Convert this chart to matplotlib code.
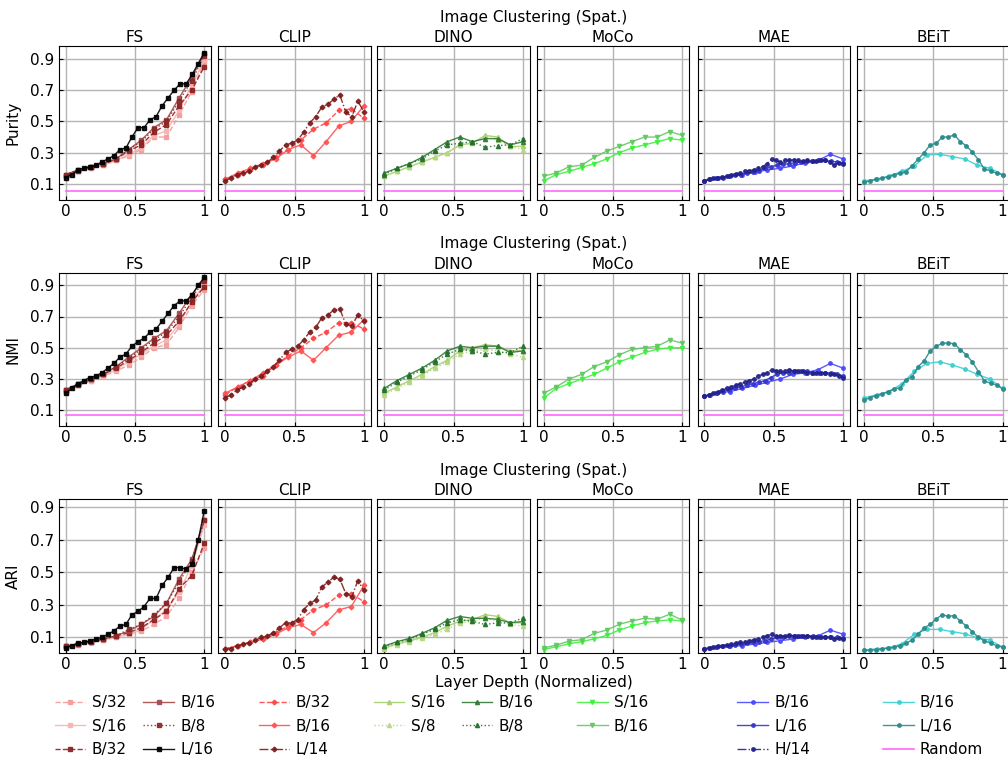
import numpy as np
import matplotlib
matplotlib.use('Agg')
import matplotlib.pyplot as plt

# ---- data: each model -> [Purity, NMI, ARI] per layer (x = normalized depth) ----
metrics = ['Purity', 'NMI', 'ARI']
families = ['FS', 'CLIP', 'DINO', 'MoCo', 'MAE', 'BEiT']
random_level = [0.056, 0.072, 0.0]

fs_s32 = [[0.15, 0.18, 0.20, 0.22, 0.25, 0.28, 0.32, 0.40, 0.40, 0.54, 0.69, 0.88],
          [0.22, 0.26, 0.29, 0.32, 0.35, 0.39, 0.44, 0.50, 0.52, 0.63, 0.77, 0.87],
          [0.04, 0.055, 0.07, 0.085, 0.10, 0.12, 0.14, 0.18, 0.23, 0.34, 0.50, 0.65]]
fs_s16 = [[0.15, 0.18, 0.20, 0.22, 0.25, 0.29, 0.33, 0.41, 0.44, 0.57, 0.73, 0.89],
          [0.22, 0.26, 0.29, 0.32, 0.36, 0.41, 0.46, 0.51, 0.55, 0.65, 0.80, 0.90],
          [0.04, 0.055, 0.07, 0.085, 0.10, 0.12, 0.15, 0.21, 0.27, 0.38, 0.54, 0.79]]
fs_b32 = [[0.15, 0.18, 0.21, 0.23, 0.26, 0.31, 0.35, 0.43, 0.48, 0.60, 0.70, 0.85],
          [0.23, 0.26, 0.30, 0.33, 0.37, 0.42, 0.47, 0.53, 0.58, 0.67, 0.79, 0.89],
          [0.045, 0.06, 0.075, 0.09, 0.11, 0.13, 0.16, 0.21, 0.26, 0.40, 0.48, 0.68]]
fs_b16 = [[0.16, 0.19, 0.21, 0.23, 0.26, 0.32, 0.38, 0.46, 0.51, 0.65, 0.78, 0.93],
          [0.23, 0.27, 0.30, 0.33, 0.38, 0.44, 0.50, 0.56, 0.61, 0.72, 0.84, 0.94],
          [0.045, 0.06, 0.075, 0.09, 0.11, 0.14, 0.18, 0.23, 0.31, 0.46, 0.58, 0.82]]
fs_b8 = [[0.16, 0.19, 0.21, 0.23, 0.26, 0.32, 0.37, 0.45, 0.50, 0.63, 0.76, 0.92],
         [0.23, 0.27, 0.30, 0.33, 0.38, 0.43, 0.49, 0.55, 0.60, 0.70, 0.82, 0.93],
         [0.045, 0.06, 0.075, 0.09, 0.11, 0.15, 0.18, 0.24, 0.31, 0.44, 0.57, 0.82]]
fs_l16 = [[0.14, 0.16, 0.19, 0.20, 0.21, 0.22, 0.24, 0.26, 0.28, 0.32, 0.33, 0.40,
           0.46, 0.46, 0.51, 0.53, 0.60, 0.65, 0.70, 0.74, 0.74, 0.80, 0.87, 0.94],
          [0.21, 0.24, 0.27, 0.29, 0.31, 0.32, 0.34, 0.37, 0.40, 0.44, 0.46, 0.51,
           0.54, 0.56, 0.60, 0.62, 0.67, 0.72, 0.77, 0.80, 0.80, 0.84, 0.90, 0.95],
          [0.035, 0.05, 0.065, 0.07, 0.08, 0.09, 0.10, 0.12, 0.14, 0.17, 0.18, 0.24,
           0.26, 0.29, 0.34, 0.34, 0.42, 0.47, 0.53, 0.53, 0.52, 0.55, 0.70, 0.88]]

clip_b32 = [[0.13, 0.16, 0.19, 0.22, 0.27, 0.32, 0.38, 0.45, 0.49, 0.57, 0.58, 0.52],
            [0.20, 0.25, 0.29, 0.32, 0.39, 0.45, 0.50, 0.56, 0.60, 0.66, 0.66, 0.62],
            [0.03, 0.05, 0.07, 0.09, 0.13, 0.17, 0.21, 0.27, 0.30, 0.36, 0.37, 0.32]]
clip_b16 = [[0.13, 0.17, 0.20, 0.23, 0.26, 0.32, 0.35, 0.28, 0.37, 0.47, 0.50, 0.60],
            [0.21, 0.25, 0.29, 0.34, 0.39, 0.44, 0.48, 0.42, 0.50, 0.58, 0.60, 0.68],
            [0.03, 0.05, 0.07, 0.09, 0.12, 0.16, 0.18, 0.13, 0.19, 0.27, 0.29, 0.42]]
clip_l14 = [[0.12, 0.14, 0.16, 0.17, 0.18, 0.21, 0.22, 0.24, 0.27, 0.31, 0.35, 0.36,
             0.38, 0.43, 0.49, 0.53, 0.59, 0.61, 0.64, 0.67, 0.56, 0.53, 0.63, 0.56],
            [0.18, 0.20, 0.23, 0.25, 0.27, 0.30, 0.32, 0.35, 0.38, 0.42, 0.47, 0.49,
             0.51, 0.55, 0.60, 0.63, 0.69, 0.71, 0.74, 0.75, 0.65, 0.64, 0.71, 0.67],
            [0.028, 0.032, 0.048, 0.059, 0.069, 0.083, 0.10, 0.11, 0.13, 0.16, 0.19, 0.19,
             0.21, 0.27, 0.31, 0.33, 0.41, 0.44, 0.47, 0.46, 0.37, 0.35, 0.45, 0.39]]

dino_s16 = [[0.15, 0.18, 0.21, 0.24, 0.27, 0.30, 0.35, 0.36, 0.41, 0.40, 0.34, 0.34],
            [0.21, 0.25, 0.29, 0.33, 0.38, 0.42, 0.48, 0.50, 0.52, 0.51, 0.48, 0.48],
            [0.035, 0.06, 0.08, 0.10, 0.13, 0.17, 0.20, 0.21, 0.24, 0.23, 0.19, 0.19]]
dino_s8 = [[0.15, 0.18, 0.21, 0.24, 0.27, 0.30, 0.35, 0.37, 0.40, 0.38, 0.34, 0.32],
           [0.20, 0.24, 0.28, 0.32, 0.37, 0.41, 0.46, 0.48, 0.49, 0.48, 0.46, 0.44],
           [0.03, 0.055, 0.075, 0.095, 0.12, 0.15, 0.19, 0.20, 0.22, 0.20, 0.18, 0.17]]
dino_b16 = [[0.17, 0.20, 0.23, 0.27, 0.32, 0.37, 0.40, 0.37, 0.39, 0.39, 0.35, 0.37],
            [0.24, 0.29, 0.33, 0.37, 0.42, 0.48, 0.51, 0.50, 0.51, 0.51, 0.47, 0.48],
            [0.047, 0.074, 0.094, 0.125, 0.16, 0.206, 0.229, 0.218, 0.218, 0.212, 0.191, 0.198]]
dino_b8 = [[0.16, 0.20, 0.23, 0.26, 0.31, 0.35, 0.36, 0.37, 0.335, 0.345, 0.35, 0.39],
           [0.23, 0.28, 0.32, 0.36, 0.41, 0.46, 0.49, 0.48, 0.46, 0.47, 0.47, 0.51],
           [0.045, 0.07, 0.09, 0.12, 0.15, 0.19, 0.21, 0.20, 0.18, 0.19, 0.19, 0.22]]

moco_s16 = [[0.12, 0.16, 0.18, 0.205, 0.23, 0.26, 0.30, 0.33, 0.35, 0.37, 0.39, 0.38],
            [0.18, 0.24, 0.27, 0.30, 0.33, 0.37, 0.41, 0.44, 0.47, 0.49, 0.50, 0.50],
            [0.026, 0.043, 0.061, 0.074, 0.092, 0.113, 0.146, 0.171, 0.191, 0.202, 0.208, 0.202]]
moco_b16 = [[0.15, 0.17, 0.21, 0.22, 0.27, 0.31, 0.34, 0.37, 0.40, 0.40, 0.435, 0.41],
            [0.21, 0.25, 0.30, 0.33, 0.38, 0.41, 0.455, 0.49, 0.50, 0.51, 0.55, 0.53],
            [0.036, 0.053, 0.078, 0.086, 0.125, 0.146, 0.181, 0.202, 0.218, 0.212, 0.243, 0.206]]

mae_b16 = [[0.12, 0.135, 0.15, 0.16, 0.175, 0.19, 0.20, 0.215, 0.235, 0.25, 0.29, 0.26],
           [0.19, 0.21, 0.22, 0.24, 0.26, 0.28, 0.30, 0.33, 0.34, 0.36, 0.40, 0.37],
           [0.03, 0.04, 0.045, 0.05, 0.06, 0.07, 0.08, 0.09, 0.10, 0.11, 0.145, 0.12]]
mae_l16 = [[0.12, 0.13, 0.135, 0.14, 0.15, 0.155, 0.16, 0.17, 0.175, 0.185, 0.20, 0.21,
            0.22, 0.225, 0.23, 0.235, 0.24, 0.245, 0.245, 0.25, 0.25, 0.245, 0.24, 0.235],
           [0.19, 0.20, 0.21, 0.22, 0.23, 0.24, 0.25, 0.26, 0.27, 0.28, 0.29, 0.31,
            0.33, 0.34, 0.34, 0.35, 0.35, 0.35, 0.34, 0.34, 0.34, 0.34, 0.33, 0.32],
           [0.03, 0.035, 0.04, 0.045, 0.05, 0.055, 0.06, 0.065, 0.07, 0.075, 0.08, 0.09,
            0.10, 0.105, 0.11, 0.11, 0.11, 0.11, 0.11, 0.105, 0.105, 0.10, 0.10, 0.095]]
mae_h14 = [[0.12, 0.13, 0.135, 0.14, 0.145, 0.15, 0.16, 0.165, 0.17, 0.18, 0.185, 0.19,
            0.20, 0.21, 0.23, 0.26, 0.25, 0.24, 0.25, 0.25, 0.255, 0.25, 0.245, 0.25,
            0.245, 0.245, 0.25, 0.25, 0.24, 0.22, 0.235, 0.23],
           [0.19, 0.20, 0.21, 0.22, 0.23, 0.24, 0.25, 0.26, 0.27, 0.28, 0.29, 0.30,
            0.32, 0.33, 0.34, 0.36, 0.35, 0.35, 0.35, 0.36, 0.35, 0.35, 0.35, 0.34,
            0.34, 0.34, 0.34, 0.34, 0.33, 0.33, 0.32, 0.31],
           [0.03, 0.035, 0.04, 0.045, 0.05, 0.055, 0.06, 0.065, 0.07, 0.075, 0.08, 0.085,
            0.09, 0.10, 0.11, 0.12, 0.11, 0.11, 0.11, 0.115, 0.11, 0.11, 0.11, 0.11,
            0.105, 0.105, 0.105, 0.10, 0.10, 0.09, 0.095, 0.09]]

beit_b16 = [[0.12, 0.13, 0.15, 0.18, 0.215, 0.285, 0.29, 0.275, 0.26, 0.22, 0.20, 0.16],
            [0.18, 0.20, 0.22, 0.27, 0.35, 0.40, 0.41, 0.39, 0.365, 0.33, 0.30, 0.24],
            [0.022, 0.03, 0.036, 0.061, 0.119, 0.15, 0.15, 0.136, 0.123, 0.098, 0.084, 0.041]]
beit_l16 = [[0.11, 0.12, 0.13, 0.136, 0.147, 0.158, 0.168, 0.179, 0.217, 0.258, 0.30, 0.35,
             0.36, 0.40, 0.40, 0.414, 0.37, 0.343, 0.303, 0.254, 0.194, 0.185, 0.168, 0.16],
            [0.166, 0.181, 0.194, 0.203, 0.22, 0.237, 0.245, 0.295, 0.316, 0.38, 0.417, 0.481,
             0.509, 0.53, 0.53, 0.526, 0.487, 0.455, 0.408, 0.348, 0.288, 0.273, 0.263, 0.237],
            [0.02, 0.022, 0.025, 0.03, 0.035, 0.04, 0.05, 0.065, 0.085, 0.12, 0.16, 0.18,
             0.215, 0.24, 0.23, 0.235, 0.20, 0.17, 0.135, 0.10, 0.08, 0.065, 0.05, 0.04]]

# ---- styles ----
series = {
    'FS': [('S/32', fs_s32, '#f49a9a', '--', 's'),
           ('S/16', fs_s16, '#f6b3b3', '-', 's'),
           ('B/32', fs_b32, '#8e1f1f', '--', 's'),
           ('B/16', fs_b16, '#a44a4a', '-', 's'),
           ('B/8', fs_b8, '#8b2626', ':', 's'),
           ('L/16', fs_l16, 'black', '-', 's')],
    'CLIP': [('B/32', clip_b32, '#ff4444', '--', 'D'),
             ('B/16', clip_b16, '#ff5252', '-', 'D'),
             ('L/14', clip_l14, '#7a1c1c', '-.', 'D')],
    'DINO': [('S/16', dino_s16, '#a6cf6a', '-', '^'),
             ('S/8', dino_s8, '#b6d880', ':', '^'),
             ('B/16', dino_b16, '#2e7b32', '-', '^'),
             ('B/8', dino_b8, '#22702a', ':', '^')],
    'MoCo': [('S/16', moco_s16, '#3ef03e', '-', 'v'),
             ('B/16', moco_b16, '#62c862', '-', 'v')],
    'MAE': [('B/16', mae_b16, '#4848ff', '-', 'o'),
            ('L/16', mae_l16, '#3434cc', '-', 'o'),
            ('H/14', mae_h14, '#22228a', '-.', 'o')],
    'BEiT': [('B/16', beit_b16, '#3ccfcf', '-', 'o'),
             ('L/16', beit_l16, '#2a8a8a', '-', 'o')],
}
msize = {'s': 2.6, 'D': 2.4, '^': 3.0, 'v': 3.0, 'o': 2.5}

W, H = 1008, 762
FS_ = 11
fig = plt.figure(figsize=(W / 100, H / 100), dpi=100)

col_left = [58.7, 218.3, 377.3, 536.8, 697.5, 857.0]
ax_w = 152.5
row_top = [46.3, 272.7, 499.3]
ax_h = 153.3
ylims = [(0.0, 0.98), (0.0, 0.98), (0.007, 0.95)]

axes = []
for r, metric in enumerate(metrics):
    row = []
    for c, fam in enumerate(families):
        ax = fig.add_axes([col_left[c] / W, 1 - (row_top[r] + ax_h) / H, ax_w / W, ax_h / H])
        ax.grid(True, color='#b4b4b4', lw=1.0)
        ax.set_axisbelow(True)
        for name, vals, color, ls, mk in series[fam]:
            y = vals[r]
            x = np.linspace(0, 1, len(y))
            ax.plot(x, y, color=color, ls=ls, marker=mk, ms=msize[mk], lw=1.0,
                    alpha=0.9, label=name)
        ax.plot([0, 1], [random_level[r]] * 2, color='#ff66ff', lw=1.2, label='Random')
        ax.set_xlim(-0.05, 1.05)
        ax.set_ylim(*ylims[r])
        ax.set_xticks([0, 0.5, 1])
        ax.set_xticklabels(['0', '0.5', '1'])
        ax.set_yticks([0.1, 0.3, 0.5, 0.7, 0.9])
        ax.tick_params(direction='in', length=3, pad=3, labelsize=FS_)
        if c == 0:
            ax.set_yticklabels(['0.1', '0.3', '0.5', '0.7', '0.9'])
            ax.set_ylabel(metric, fontsize=FS_, labelpad=7)
        else:
            ax.set_yticklabels([])
        ax.set_title(fam, fontsize=FS_, pad=3)
        row.append(ax)
    axes.append(row)
    fig.text(534 / W, 1 - (row_top[r] - 29) / H, 'Image Clustering (Spat.)',
             ha='center', va='center', fontsize=FS_)

fig.text(534 / W, 1 - 683 / H, 'Layer Depth (Normalized)', ha='center', va='center', fontsize=FS_)

# legends below each column
ncols = {'FS': 2, 'CLIP': 1, 'DINO': 2, 'MoCo': 1, 'MAE': 1, 'BEiT': 1}
for c, fam in enumerate(families):
    h, l = axes[0][c].get_legend_handles_labels()
    if fam != 'BEiT':
        h, l = h[:-1], l[:-1]
    cx = (col_left[c] + ax_w / 2) / W
    fig.legend(h, l, loc='upper center', bbox_to_anchor=(cx, 1 - 695 / H),
               ncol=ncols[fam], frameon=False, fontsize=FS_, handlelength=2.0,
               handletextpad=0.4, columnspacing=1.1, labelspacing=0.56,
               borderpad=0, borderaxespad=0)

fig.savefig('out.png', dpi=100)
